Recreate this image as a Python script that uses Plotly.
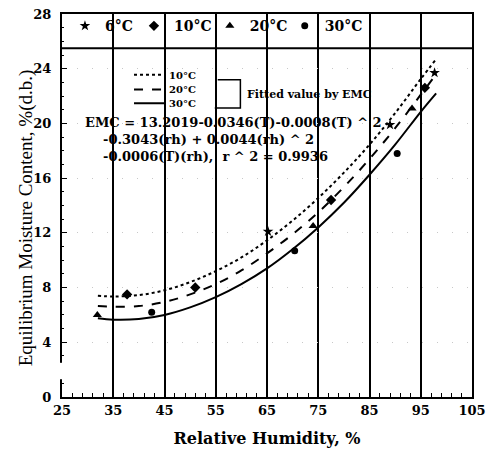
import plotly.graph_objects as go

# ---- data ----
rh_fit = [32, 35, 40, 45, 50, 55, 60, 65, 70, 75, 80, 85, 90, 95, 98]
fit_10 = [7.4, 7.35, 7.45, 7.8, 8.4, 9.2, 10.2, 11.45, 12.9, 14.55, 16.4, 18.45, 20.75, 23.25, 24.7]
fit_20 = [6.65, 6.6, 6.65, 6.95, 7.5, 8.25, 9.25, 10.5, 11.9, 13.5, 15.35, 17.4, 19.65, 22.1, 23.6]
fit_30 = [5.75, 5.65, 5.7, 6.0, 6.55, 7.3, 8.25, 9.4, 10.8, 12.4, 14.2, 16.25, 18.45, 20.85, 22.2]

rh_6 = [65.2, 89.0, 97.7]
emc_6 = [12.1, 19.9, 23.7]
rh_10 = [37.7, 51.0, 77.5, 95.8]
emc_10 = [7.5, 8.0, 14.4, 22.6]
rh_20 = [31.9, 74.0, 93.3]
emc_20 = [6.0, 12.5, 21.1]
rh_30 = [42.5, 70.4, 90.4]
emc_30 = [6.2, 10.7, 17.8]

x_ticks = [25, 35, 45, 55, 65, 75, 85, 95, 105]
y_ticks = [0, 4, 8, 12, 16, 20, 24, 28]

W, H = 493, 452
ML, MR, MT, MB = 62, 15, 7, 54
PW, PH = W - ML - MR, H - MT - MB


def px(x):
    return (x - ML) / PW


def py(y):
    return 1 - (y - MT) / PH


SERIF_B = "DejaVu Serif"
fig = go.Figure()

# measured points
pts = [
    (rh_6, emc_6, "6°C", "star", 8, "legend"),
    (rh_10, emc_10, "10°C", "diamond", 8, "legend2"),
    (rh_20, emc_20, "20°C", "triangle-up", 8, "legend3"),
    (rh_30, emc_30, "30°C", "circle", 7, "legend4"),
]
for xs, ys, name, sym, sz, lg in pts:
    fig.add_trace(go.Scatter(x=xs, y=ys, mode="markers", name=name, legend=lg,
                             marker=dict(symbol=sym, size=sz, color="black")))

# fitted curves
for ys, name, dash, lg in [(fit_10, "10°C", "dot", "legend5"),
                           (fit_20, "20°C", "dash", "legend6"),
                           (fit_30, "30°C", "solid", "legend7")]:
    fig.add_trace(go.Scatter(x=rh_fit, y=ys, mode="lines", name=name, legend=lg,
                             line=dict(color="black", width=2, dash=dash, shape="spline")))

leg_font = dict(family=SERIF_B, size=14, color="black", weight="bold")
row_y = py(19.5)
common = dict(orientation="h", yanchor="middle", y=row_y, xanchor="left",
              bgcolor="rgba(0,0,0,0)", borderwidth=0, font=leg_font, itemwidth=30)
line_leg = dict(orientation="v", yanchor="middle", xanchor="left", x=px(130),
                bgcolor="rgba(0,0,0,0)", borderwidth=0, itemwidth=30,
                font=dict(family=SERIF_B, size=10, color="black", weight="bold"))

fig.update_layout(
    width=W, height=H,
    margin=dict(l=ML, r=MR, t=MT, b=MB),
    paper_bgcolor="white", plot_bgcolor="white",
    showlegend=True,
    legend=dict(x=px(65), **common),
    legend2=dict(x=px(135), **common),
    legend3=dict(x=px(212), **common),
    legend4=dict(x=px(288), **common),
    legend5=dict(y=py(69), **line_leg),
    legend6=dict(y=py(84), **line_leg),
    legend7=dict(y=py(98), **line_leg),
    xaxis=dict(
        range=[25, 105], tickvals=x_ticks, ticktext=[str(v) for v in x_ticks],
        showgrid=True, gridcolor="black", gridwidth=2,
        showline=True, linecolor="black", linewidth=2, mirror=True,
        ticks="inside", ticklen=0, tickcolor="black",
        minor=dict(dtick=2, tick0=25, ticks="inside", ticklen=4, tickcolor="black", showgrid=False),
        tickfont=dict(family=SERIF_B, size=13, color="black", weight="bold"),
        title=dict(text="Relative Humidity, %", standoff=16,
                   font=dict(family=SERIF_B, size=16, color="black", weight="bold")),
        zeroline=False, fixedrange=True,
    ),
    yaxis=dict(
        range=[0, 28], tickvals=y_ticks, ticktext=[str(v) for v in y_ticks],
        showgrid=True, gridcolor="#c8c8c8", gridwidth=1, griddash="1px,14px",
        showline=True, linecolor="black", linewidth=2, mirror=True,
        ticks="inside", ticklen=5, tickcolor="black", ticklabelstandoff=6,
        minor=dict(dtick=1, ticks="inside", ticklen=2, tickcolor="black", showgrid=False),
        tickfont=dict(family=SERIF_B, size=13, color="black", weight="bold"),
        zeroline=False, fixedrange=True,
    ),
)

shapes = [
    # legend row divider
    dict(type="line", xref="paper", yref="y", x0=0, x1=1, y0=25.5, y1=25.5,
         line=dict(color="black", width=2)),
    # bracket for fitted lines
    dict(type="path", xref="paper", yref="paper",
         path=f"M {px(220)},{py(74)} L {px(243)},{py(74)} L {px(243)},{py(103)} L {px(217)},{py(103)}",
         line=dict(color="black", width=1.5)),
    # break in left axis
    dict(type="rect", xref="paper", yref="y", x0=px(58), x1=px(67), y0=1.3, y1=2.5,
         fillcolor="white", line=dict(width=0), layer="above"),
]
fig.update_layout(shapes=shapes)

NB = "\u00a0"
eq_text = ("EMC = 13.2019-0.0346(T)-0.0008(T) ^ 2<br>"
           + NB * 4 + "-0.3043(rh) + 0.0044(rh) ^ 2<br>"
           + NB * 4 + "-0.0006(T)(rh),  r ^ 2 = 0.9936")
fig.add_annotation(xref="paper", yref="paper", x=px(83), y=py(108),
                   xanchor="left", yanchor="top", align="left", showarrow=False,
                   text=eq_text,
                   font=dict(family=SERIF_B, size=13, color="black", weight="bold"))
fig.add_annotation(xref="paper", yref="paper", x=px(248), y=py(89),
                   xanchor="left", yanchor="middle", showarrow=False,
                   text="Fitted value by EMC",
                   font=dict(family=SERIF_B, size=11, color="black", weight="bold"))

# y-axis title
fig.add_annotation(xref="paper", yref="paper", x=px(25), y=py(215),
                   xanchor="center", yanchor="middle", textangle=-90, showarrow=False,
                   text="Equilibrium Moisture Content, %(d.b.)",
                   font=dict(family="Liberation Serif", size=19, color="black"))

fig.write_html("out.html")
